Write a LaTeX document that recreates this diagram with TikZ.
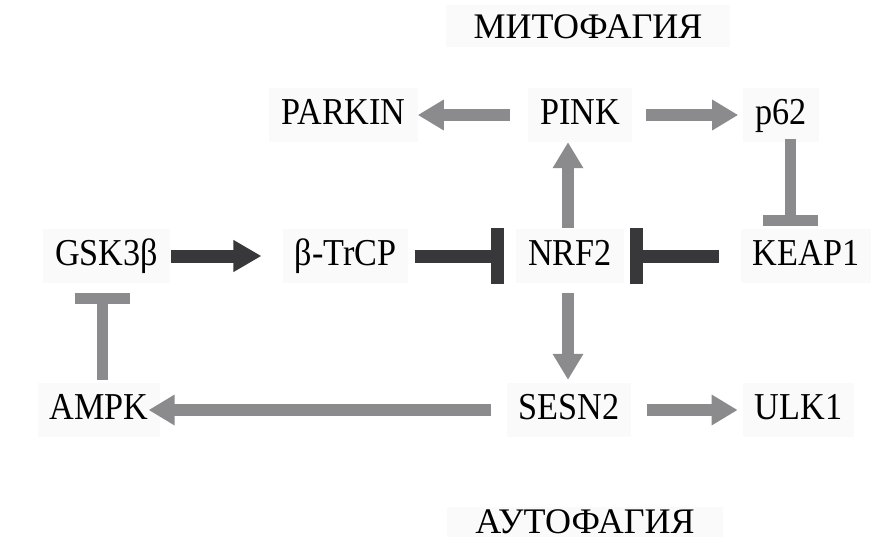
\documentclass[tikz,border=0pt]{standalone}
\usepackage{fontspec}
\setmainfont[FakeStretch=0.9]{Liberation Serif}
\newfontfamily\titlefont{Liberation Serif}
\usetikzlibrary{arrows.meta}
\definecolor{gr}{HTML}{8B8B8D}
\definecolor{dk}{HTML}{38383A}
\definecolor{bx}{HTML}{FAFAFA}
\begin{document}
\begin{tikzpicture}[x=1pt,y=-1pt,
  lbl/.style={font=\fontsize{38}{44}\selectfont, fill=bx, inner xsep=12pt, inner ysep=10pt,
    text height=26pt, text depth=8pt, anchor=base},
  ttl/.style={font=\titlefont\fontsize{36}{42}\selectfont, fill=bx, inner xsep=28pt, inner ysep=9pt, anchor=base},
  garr/.style={draw=gr, line width=12pt, -{Triangle[length=26pt,width=29pt]}},
  darr/.style={draw=dk, line width=13pt, -{Triangle[length=28pt,width=30pt]}},
  ginh/.style={draw=gr, line width=11pt, -{Bar[width=55pt]}},
  dinh/.style={draw=dk, line width=13pt, -{Bar[width=56pt]}}]
\useasboundingbox (0,0) rectangle (883,541);
% titles
\node[ttl] (mito) at (588,38) {МИТОФАГИЯ};
\node[ttl, inner ysep=2pt, text depth=2pt] (auto) at (585,533) {АУТОФАГИЯ};
% row 1
\node[lbl] (parkin) at (343.5,124) {PARKIN};
\node[lbl] (pink) at (580,124) {PINK};
\node[lbl] (p62) at (781,124) {p62};
% row 2
\node[lbl] (gsk) at (106.5,265) {GSK3β};
\node[lbl] (btrcp) at (345.5,265) {β-TrCP};
\node[lbl] (nrf2) at (570,265) {NRF2};
\node[lbl] (keap) at (806,265) {KEAP1};
% row 3
\node[lbl] (ampk) at (99,419) {AMPK};
\node[lbl] (sesn) at (569,419) {SESN2};
\node[lbl] (ulk) at (798.5,419) {ULK1};
% connectors
\draw[garr, shorten <=18pt] (pink.west) -- (parkin.east);
\draw[garr, shorten <=14pt, shorten >=5pt] (pink.east) -- (p62.west);
\draw[darr, shorten <=1pt, shorten >=21pt] (gsk.east) -- (btrcp.west);
\draw[dinh, shorten <=6pt, shorten >=12pt] (btrcp.east) -- (nrf2.west);
\draw[dinh, shorten <=22pt, shorten >=6pt] (keap.west) -- (nrf2.east);
\draw[garr, shorten <=1pt] ([xshift=-2pt]nrf2.north) -- ([xshift=-2pt]nrf2.north |- pink.south);
\draw[ginh, shorten <=-3pt, shorten >=3pt] ([xshift=9pt]p62.south) -- ([xshift=9pt]p62.south |- keap.north);
\draw[garr, shorten <=10pt, shorten >=3pt] ([xshift=-2pt]nrf2.south) -- ([xshift=-2pt]nrf2.south |- sesn.north);
\draw[garr, shorten <=15pt, shorten >=-12pt] (sesn.west) -- (ampk.east);
\draw[garr, shorten <=15pt, shorten >=5pt] (sesn.east) -- (ulk.west);
\draw[ginh, shorten <=3pt, shorten >=10pt] ([xshift=3pt]ampk.north) -- ([xshift=3pt]ampk.north |- gsk.south);
\end{tikzpicture}
\end{document}
